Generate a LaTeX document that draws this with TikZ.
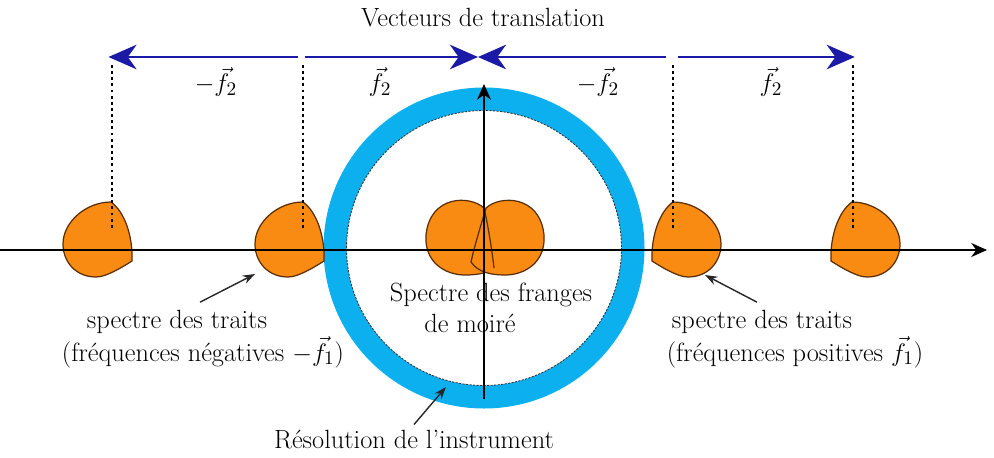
\documentclass[tikz,border=0pt]{standalone}
\usepackage{amsmath}
\usepackage{tikz}
\usetikzlibrary{arrows.meta,positioning,calc}
\definecolor{blobfill}{HTML}{F98A12}
\definecolor{blobline}{HTML}{5A2E05}
\definecolor{ringblue}{HTML}{0CB0EE}
\definecolor{vecblue}{HTML}{1A1AA6}

\begin{document}
\begin{tikzpicture}[x=0.02cm,y=-0.02cm,
			lab/.style={font=\fontsize{15}{18}\selectfont,inner sep=1pt},
			blob/.style={fill=blobfill,draw=blobline,line width=0.7pt},
			axe/.style={-{Stealth[length=9pt,width=8pt]},line width=1pt,black},
			vec/.style={-{Stealth[length=16pt,width=14pt,inset=5pt]},line width=1.1pt,vecblue},
			guide/.style={line width=1.6pt,dash pattern=on 1.6pt off 1.9pt},
			ptr/.style={-{Stealth[length=7pt,width=5pt]},line width=0.8pt,black!85}
			]
			\useasboundingbox (0,0) rectangle (994,457);
			% resolution de l'instrument
			\draw[ringblue,line width=0.46cm] (484,248) circle[radius=149];
			\draw[black!80,line width=0.5pt,dash pattern=on 1.2pt off 0.8pt] (484,248) circle[radius=137.5];
			% spectres des traits
			\foreach \px/\sx in {111/1,303/1,673/-1,852/-1}{
				\begin{scope}[shift={(\px,202)},xscale=\sx]
					\filldraw[blob] (0,0) .. controls (14,10) and (22,35) .. (21,59)
						.. controls (10,66) and (-5,75) .. (-15,75)
						.. controls (-35,75) and (-48,60) .. (-48,42)
						.. controls (-48,20) and (-25,0) .. (0,0) -- cycle;
				\end{scope}
			}
			% spectre des franges
			\filldraw[blob] (484,208) .. controls (470,195) and (430,195) .. (426,235)
				.. controls (424,262) and (445,275) .. (465,275)
				.. controls (480,275) and (490,272) .. (494,268)
				.. controls (492,250) and (488,225) .. (484,208) -- cycle;
			\filldraw[blob] (486,208) .. controls (500,195) and (540,195) .. (544,235)
				.. controls (546,262) and (525,275) .. (505,275)
				.. controls (490,275) and (478,272) .. (471,262)
				.. controls (476,240) and (482,222) .. (486,208) -- cycle;
			\draw[blob,fill=none] (484,208) .. controls (488,225) and (492,250) .. (494,268);
			% axes
			\coordinate (ox) at (0,250);
			\coordinate (ex) at (987,250);
			\coordinate (oy) at (484,399);
			\coordinate (ey) at (484,84);
			\draw[axe] (ox) -- (ex);
			\draw[axe] (oy) -- (ey);
			% vecteurs de translation
			\coordinate (g1) at (112,57);
			\coordinate (g2) at (303,57);
			\coordinate (g3) at (673,57);
			\coordinate (g4) at (853,57);
			\coordinate (gc) at (485,57);
			\foreach \g in {g1,g2,g3,g4}
				\draw[guide] ([yshift=-0.16cm]\g) -- ([yshift=-3.46cm]\g);
			\draw[vec,shorten <=3pt,shorten >=-2pt] (g2) -- (g1);
			\draw[vec,shorten <=1pt,shorten >=4pt] (g2) -- (gc);
			\draw[vec,shorten <=4pt,shorten >=-4pt] (g3) -- (gc);
			\draw[vec,shorten <=3pt,shorten >=-1pt] (g3) -- (g4);
			\node[lab] (titre) at (483,18) {Vecteurs de translation};
			\node[lab] (mf2a) at (216,82) {$-\vec{f}_2$};
			\node[lab] (f2a) at (380,82) {$\vec{f}_2$};
			\node[lab] (mf2b) at (598,82) {$-\vec{f}_2$};
			\node[lab] (f2b) at (771,82) {$\vec{f}_2$};
			% textes
			\node[lab] (negtxt) at (177,322) {spectre des traits};
			\node[lab] (negfreq) at (203,352) {(fréquences négatives $-\vec{f}_1$)};
			\node[lab] (postxt) at (762,322) {spectre des traits};
			\node[lab] (posfreq) at (795,352) {(fréquences positives $\vec{f}_1$)};
			\node[lab] (moire) at (491,295) {Spectre des franges};
			\node[lab] (moire2) at (470,323) {de moiré};
			\node[lab] (resol) at (414,440) {Résolution de l’instrument};
			\coordinate (negto) at (255,274);
			\coordinate (posto) at (705,275);
			\coordinate (resto) at (446,387);
			\draw[ptr] ([xshift=0.46cm,yshift=0.12cm]negtxt.north) -- (negto);
			\draw[ptr] ([xshift=-0.1cm,yshift=0.12cm]postxt.north) -- (posto);
			\draw[ptr] ([yshift=0.08cm]resol.north) -- (resto);
		\end{tikzpicture}
\end{document}
